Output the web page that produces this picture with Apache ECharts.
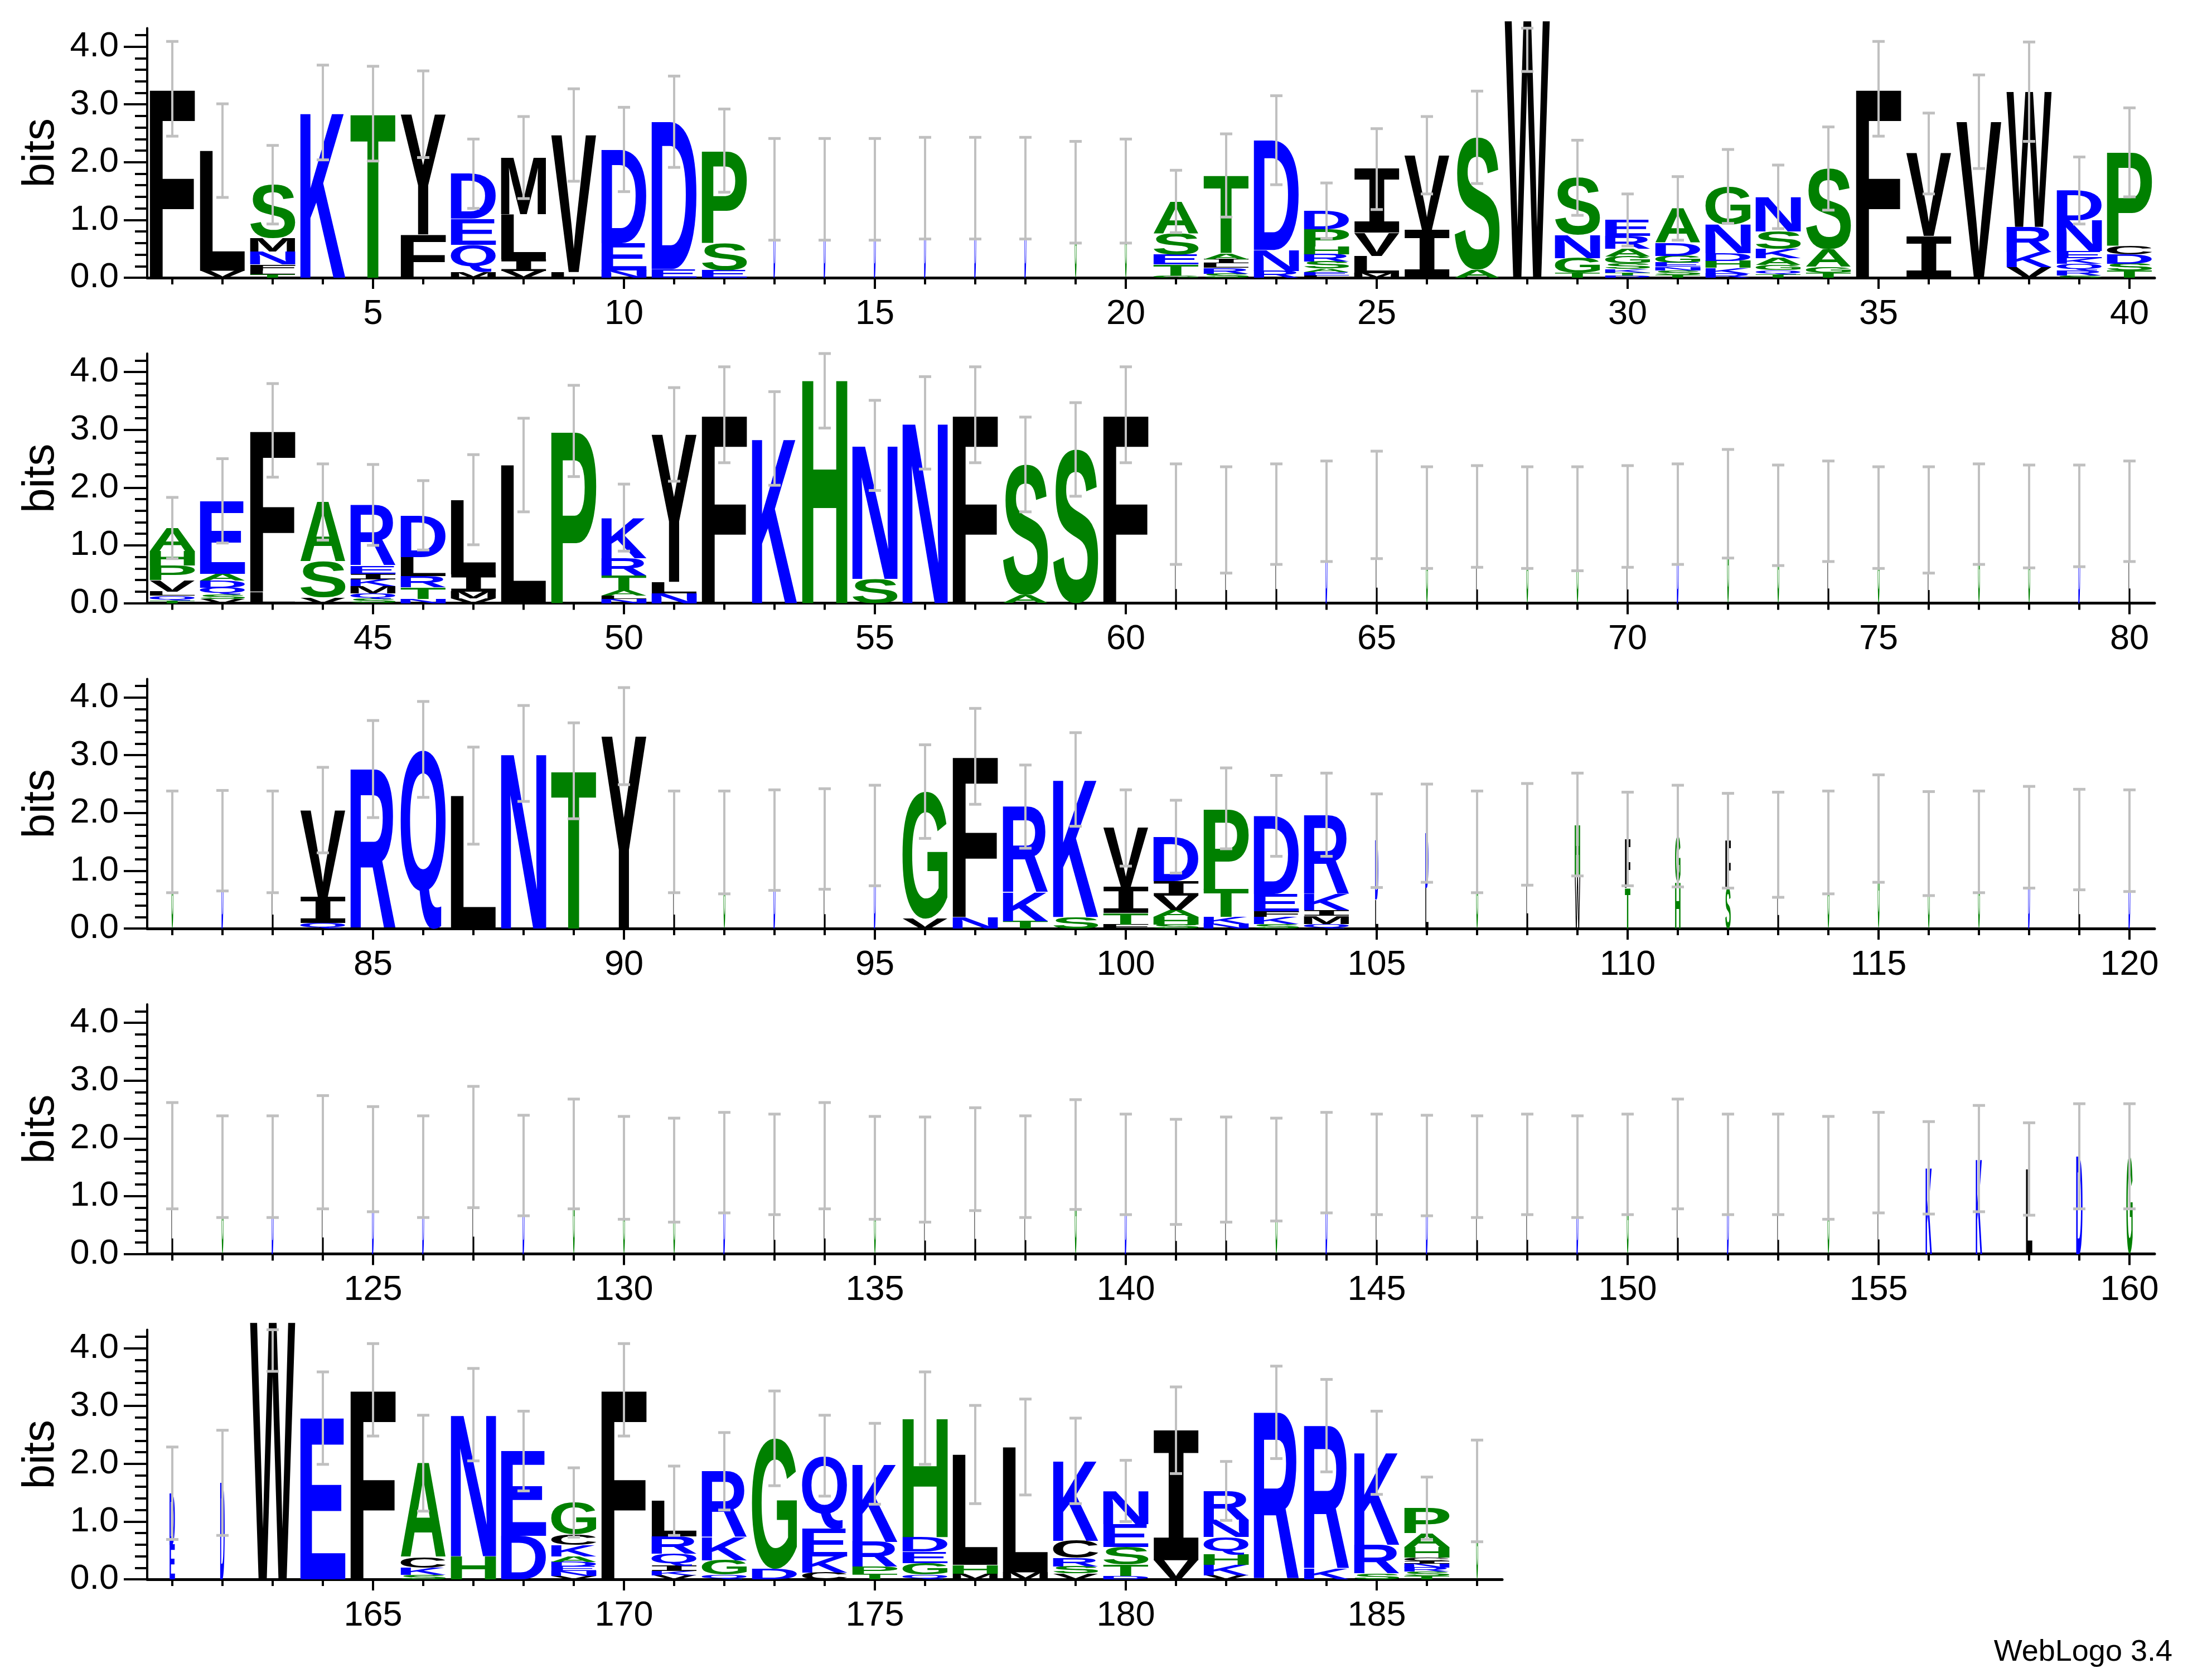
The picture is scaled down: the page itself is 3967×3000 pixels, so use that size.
<!DOCTYPE html>
<html>
<head>
<meta charset="utf-8">
<title>WebLogo 3.4</title>
<script src="https://cdn.jsdelivr.net/npm/echarts@6/dist/echarts.min.js"></script>
<style>
    html, body { margin: 0; padding: 0; background: #fff; }
    #main { width: 3967px; height: 3000px; }
</style>
</head>
<body>
<div id="main"></div>
<script>
    // one stack per position, letters bottom -> top, "letter + height in bits"
    const stacks = [
        // 1 - 40
        "F3.27", "V.12 L2.08", "T.06 L.07 F.1 N.22 M.23 S.93", "K2.86", "T2.84",
        "F.75 Y2.08", "M.1 Q.47 E.45 D.78", "V.12 I.2 L.78 M.98", "L.1 V2.37", "N.13 E.47 D1.62",
        "E.15 D2.55", "E.13 S.47 P1.6", "D1.53", "D1.53", "D1.53",
        "D1.55", "D1.55", "D1.55", "G1.48", "G1.5",
        "G.04 T.19 E.17 S.37 A.55", "S.07 R.1 L.08 I.07 A.1 T1.35", "R.12 N.36 D1.9", "L.04 E.06 A.06 S.12 R.13 H.13 P.3 D.32", "M.08 L.3 V.4 I1.1",
        "I.83 V1.29", "A.14 S2.29", "W4.45", "T.08 G.26 N.4 S.99", "D.04 T.05 K.06 S.1 G.12 A.13 R.22 E.28",
        "T.05 S.08 N.06 E.07 G.12 D.22 A.6", "R.07 K.1 H.12 D.13 N.5 G.66", "T.06 Q.07 G.09 A.12 K.16 S.3 N.6", "T.09 G.1 A.3 S1.4", "F3.27",
        "I.72 V1.43", "V2.7", "V.18 K.26 R.44 W2.34", "S.04 R.09 Q.11 K.1 E.12 N.53 D.52", "T.12 S.12 D.16 C.15 P1.62",
        // 41 - 80
        "T.05 Q.08 L.07 V.2 P.25 H.25 A.4", "V.07 S.08 Q.12 D.12 A.12 E1.26", "L.2 F2.79", "V.1 S.62 A1.03", "S.07 Q.1 M.12 K.12 I.1 E.14 R1.05",
        "N.07 T.2 R.2 L.33 D.72", "V.08 M.12 I.3 L1.29", "L2.39", "P2.98", "N.07 L.06 A.1 T.25 R.3 K.7",
        "N.17 L.2 Y2.55", "F3.26", "K2.85", "H3.88", "S.42 N2.31",
        "N3.12", "F3.26", "A.14 S2.26", "S2.66", "F3.26",
        "L1.54", "L1.44", "L1.54", "D1.59", "L1.7",
        "G1.48", "L1.5", "G1.48", "G1.46", "L1.5",
        "D1.54", "G1.72", "G1.52", "L1.59", "G1.48",
        "L1.44", "G1.54", "G1.5", "D1.51", "L1.59",
        // 81 - 120
        "G1.5", "D1.52", "L1.5", "Q.1 I.45 V1.5", "R2.76",
        "Q3.1", "L2.3", "N3.03", "T2.73", "Y3.33",
        "L1.5", "G1.49", "D1.53", "L1.55", "D1.61",
        "V.17 G2.2", "N.2 F2.78", "T.13 K.5 R1.48", "S.2 K2.38", "F.07 T.2 I.45 V1.02",
        "S.07 H.13 A.12 V.25 I.25 D.77", "N.08 K.12 T.48 P1.4", "S.08 K.12 F.1 E.3 D1.35", "Q.08 M.14 I.1 K.28 R1.37", "L.5 D1.02",
        "L.7 D.95", "G1.5", "L1.63", "W.9 H.9", "T.7 F.85",
        "H.8 G.8", "S.7 F.82", "L1.45", "G1.49", "G1.73",
        "G1.47", "G1.5", "D1.58", "L1.54", "D1.52",
        // 121 - 160
        "L1.7", "G1.51", "D1.51", "L1.76", "D1.64",
        "D1.51", "L1.85", "D1.53", "G1.73", "G1.49",
        "G1.45", "D1.58", "L1.55", "L1.7", "G1.49",
        "L1.46", "L1.64", "L1.51", "G1.72", "D1.55",
        "L1.42", "L1.46", "G1.46", "D1.58", "L1.55",
        "D1.53", "L1.51", "L1.55", "D1.51", "G1.55",
        "L1.73", "D1.55", "L1.55", "G1.49", "L1.58",
        "K1.49", "K1.65", "L1.47", "D1.69", "G1.69",
        // 161 - 187
        "E.6 D.89", "D1.67", "W4.45", "E2.79", "F3.28",
        "S.08 K.12 C.18 A1.63", "H.4 N2.45", "D.75 E1.47", "V.06 N.08 E.08 D.08 A.1 K.2 C.18 G.55", "F3.28",
        "V.07 K.07 I.1 Q.2 R.3 L.62", "Q.08 G.25 K.4 R1.14", "D.18 G2.26", "C.12 K.28 E.48 Q1.26", "T.1 P.12 R.43 K1.35",
        "Q.08 G.2 E.2 D.25 H2.06", "M.1 H.15 L1.91", "M.12 L2.17", "V.1 S.12 R.15 C.3 K1.38", "D.06 T.2 S.3 E.4 N.57",
        "V.33 I2.25", "V.07 K.18 H.18 Q.3 N.3 R.5", "R2.89", "K.18 R2.48", "S.1 R.5 K1.59",
        "T.06 S.07 R.07 N.07 I.05 C.06 H.18 A.24 P.43", "G1.53"
    ];

    // half length of the error bar (bits)
    const errBar = [
        .82, .81, .68, .82, .82, .75, .6, .71, .8, .73, .79, .72, .88, .88, .88, .88, .88, .88, .88, .9,
        .54, .72, .77, .48, .7, .67, .8, .88, .65, .45, .55, .64, .55, .72, .82, .7, .81, .86, .58, .77,
        .53, .73, .81, .66, .7, .6, .78, .81, .79, .58, .81, .83, .81, .85, .78, .8, .83, .82, .81, .83,
        .87, .92, .87, .87, .93, .88, .88, .88, .9, .88, .87, .94, .87, .87, .88, .92, .87, .89, .88, .87,
        .88, .87, .88, .74, .84, .83, .84, .83, .83, .84, .88, .89, .87, .87, .87, .81, .83, .72, .81, .66,
        .63, .7, .7, .72, .81, .85, .88, .88, .89, .81, .88, .82, .91, .89, .93, .9, .88, .88, .87, .88,
        .92, .88, .88, .98, .91, .88, 1.05, .87, .95, .89, .9, .87, .87, .92, .89, .91, .89, .88, .95, .87,
        .91, .91, .89, .87, .87, .87, .88, .87, .88, .87, .95, .87, .87, .89, .87, .8, .92, .8, .91, .91,
        .8, .91, .85, .8, .8, .83, .8, .69, .6, .8, .6, .67, .82, .7, .7, .8, .85, .83, .74, .53,
        .75, .51, .8, .8, .72, .54, .88
    ];

    // stack width as a fraction of a full column (gapped columns are narrow)
    const stackWidth = [
        1, 1, 1, 1, 1, 1, 1, 1, 1, 1, 1, 1, .04, .04, .04, .04, .04, .04, .04, .04,
        1, 1, 1, 1, 1, 1, 1, 1, 1, 1, 1, 1, 1, 1, 1, 1, 1, 1, 1, 1,
        1, 1, 1, 1, 1, 1, 1, 1, 1, 1, 1, 1, 1, 1, 1, 1, 1, 1, 1, 1,
        .04, .04, .04, .04, .04, .04, .04, .04, .04, .04, .04, .04, .04, .04, .04, .04, .04, .04, .04, .04,
        .04, .04, .04, 1, 1, 1, 1, 1, 1, 1, .04, .04, .04, .04, .04, 1, 1, 1, 1, 1,
        1, 1, 1, 1, .07, .07, .04, .04, .12, .12, .12, .12, .04, .04, .04, .04, .04, .04, .04, .04,
        .04, .04, .04, .04, .04, .04, .04, .04, .04, .04, .04, .04, .04, .04, .04, .04, .04, .04, .04, .04,
        .04, .04, .04, .04, .04, .04, .04, .04, .04, .04, .04, .04, .04, .04, .04, .14, .14, .14, .14, .14,
        .12, .1, 1, 1, 1, 1, 1, 1, 1, 1, 1, 1, 1, 1, 1, 1, 1, 1, 1, 1,
        1, 1, 1, 1, 1, 1, .04
    ];

    const rowStart = [1, 41, 81, 121, 161];
    const rowEnd = [40, 80, 120, 160, 187];
    const xLabelTicks = [
        [5, 10, 15, 20, 25, 30, 35, 40],
        [45, 50, 55, 60, 65, 70, 75, 80],
        [85, 90, 95, 100, 105, 110, 115, 120],
        [125, 130, 135, 140, 145, 150, 155, 160],
        [165, 170, 175, 180, 185]
    ];
    const yMajorTicks = [0, 1, 2, 3, 4];
    const yMinorTicks = [0.2, 0.4, 0.6, 0.8, 1.2, 1.4, 1.6, 1.8, 2.2, 2.4, 2.6, 2.8, 3.2, 3.4, 3.6, 3.8, 4.2];
    const yMax = 4.32;   // log2(20)

    // colour scheme
    const GREEN = '#008000', BLUE = '#0000ff', BLACK = '#000000', GREY = '#c0c0c0';
    function colourOf(ch) {
        if ('STGAPH'.indexOf(ch) >= 0) return GREEN;
        if ('KRDENQ'.indexOf(ch) >= 0) return BLUE;
        return BLACK;
    }

    function parseStack(s) {
        return s.split(' ').map(function (t) {
            return { ch: t.charAt(0), h: parseFloat(t.slice(1)) };
        });
    }
    function stackTotal(idx) {
        return parseStack(stacks[idx]).reduce(function (a, p) { return a + p.h; }, 0);
    }

    // letters are stretched to their box; I needs serifs like the logo font
    const LOGO_FONT = 'bold 200px "Liberation Sans", Arial, sans-serif';
    const SERIF_I_FONT = 'bold 200px "DejaVu Sans Mono", "Liberation Mono", monospace';
    function fontOf(ch) { return ch === 'I' ? SERIF_I_FONT : LOGO_FONT; }

    // ink box of a glyph, with the baseline zrender uses (align left, vertical middle)
    const measureCtx = document.createElement('canvas').getContext('2d');
    measureCtx.textAlign = 'left';
    measureCtx.textBaseline = 'middle';
    const glyphCache = {};
    function glyphBox(ch) {
        if (!glyphCache[ch]) {
            measureCtx.font = fontOf(ch);
            const m = measureCtx.measureText(ch);
            glyphCache[ch] = {
                l: -m.actualBoundingBoxLeft,
                r: m.actualBoundingBoxRight,
                t: -m.actualBoundingBoxAscent,
                b: m.actualBoundingBoxDescent
            };
        }
        return glyphCache[ch];
    }

    function renderStack(params, api) {
        const pos = api.value(0);
        const idx = pos - 1;
        const half = 0.45 * stackWidth[idx];
        const children = [];
        let base = 0;
        parseStack(stacks[idx]).forEach(function (p) {
            const tl = api.coord([pos - half, base + p.h]);
            const br = api.coord([pos + half, base]);
            base += p.h;
            const g = glyphBox(p.ch);
            const sx = (br[0] - tl[0]) / (g.r - g.l);
            const sy = (br[1] - tl[1]) / (g.b - g.t);
            children.push({
                type: 'text',
                x: tl[0] - sx * g.l,
                y: tl[1] - sy * g.t,
                scaleX: sx,
                scaleY: sy,
                silent: true,
                style: {
                    text: p.ch, x: 0, y: 0, font: fontOf(p.ch), fill: colourOf(p.ch),
                    align: 'left', verticalAlign: 'middle'
                }
            });
        });
        return { type: 'group', children: children };
    }

    function renderErr(params, api) {
        const pos = api.value(0);
        const idx = pos - 1;
        const tot = stackTotal(idx);
        const lo = api.coord([pos, Math.max(0, tot - errBar[idx])]);
        const hi = api.coord([pos, Math.min(yMax, tot + errBar[idx])]);
        const cap = 11;
        return {
            type: 'group',
            children: [
                { type: 'line', silent: true, shape: { x1: lo[0], y1: lo[1], x2: hi[0], y2: hi[1] }, style: { stroke: GREY, lineWidth: 4 } },
                { type: 'rect', silent: true, shape: { x: lo[0] - cap, y: lo[1] - 2.5, width: cap * 2, height: 5 }, style: { fill: GREY } },
                { type: 'rect', silent: true, shape: { x: hi[0] - cap, y: hi[1] - 2.5, width: cap * 2, height: 5 }, style: { fill: GREY } }
            ]
        };
    }

    // layout
    const colPx = 90;
    const bitPx = 103.6;
    const gridLeft = 264;
    const firstBase = 498;
    const rowGap = 583.5;
    const labelFont = { fontFamily: '"Liberation Sans", Arial, sans-serif', fontSize: 63, color: '#000' };

    const grid = [], xAxis = [], yAxis = [], series = [];
    for (let r = 0; r < 5; r++) {
        const n = rowEnd[r] - rowStart[r] + 1;
        const positions = [];
        for (let p = rowStart[r]; p <= rowEnd[r]; p++) positions.push(p);
        const height = yMax * bitPx;
        grid.push({ left: gridLeft, top: firstBase + r * rowGap - height, width: n * colPx, height: height });

        const xRange = { min: rowStart[r] - 0.5, max: rowEnd[r] + 0.5 };
        // axis line + small ticks at every position
        xAxis.push(Object.assign({
            type: 'value', gridIndex: r, position: 'bottom', splitLine: { show: false },
            axisLine: { show: true, onZero: false, lineStyle: { color: '#000', width: 5 } },
            axisTick: { show: true, customValues: positions, length: 12, lineStyle: { color: '#000', width: 4 } },
            axisLabel: { show: false }
        }, xRange));
        // long ticks + numbers every 5
        xAxis.push(Object.assign({
            type: 'value', gridIndex: r, position: 'bottom', splitLine: { show: false },
            axisLine: { show: false, onZero: false },
            axisTick: { show: true, customValues: xLabelTicks[r], length: 20, lineStyle: { color: '#000', width: 4 } },
            axisLabel: Object.assign({ show: true, customValues: xLabelTicks[r], margin: 34 }, labelFont)
        }, xRange));

        yAxis.push({
            type: 'value', gridIndex: r, position: 'left', min: 0, max: yMax, splitLine: { show: false },
            axisLine: { show: true, onZero: false, lineStyle: { color: '#000', width: 4 } },
            axisTick: { show: true, customValues: yMajorTicks, length: 42, lineStyle: { color: '#000', width: 4 } },
            axisLabel: Object.assign({
                show: true, customValues: yMajorTicks, margin: 51,
                formatter: function (v) { return v.toFixed(1); }
            }, labelFont),
            name: 'bits', nameLocation: 'middle', nameRotate: 90, nameGap: 150,
            nameTextStyle: { fontFamily: '"Liberation Sans", Arial, sans-serif', fontSize: 80, color: '#000' }
        });
        yAxis.push({
            type: 'value', gridIndex: r, position: 'left', min: 0, max: yMax, splitLine: { show: false },
            axisLine: { show: false, onZero: false },
            axisTick: { show: true, customValues: yMinorTicks, length: 22, lineStyle: { color: '#000', width: 4 } },
            axisLabel: { show: false }
        });

        const data = positions.map(function (p) { return [p]; });
        series.push({
            type: 'custom', name: 'stack' + r, xAxisIndex: r * 2, yAxisIndex: r * 2,
            renderItem: renderStack, data: data, encode: { x: 0 }, z: 2, silent: true
        });
        series.push({
            type: 'custom', name: 'error' + r, xAxisIndex: r * 2, yAxisIndex: r * 2,
            renderItem: renderErr, data: data, encode: { x: 0 }, z: 3, silent: true
        });
    }

    const myChart = echarts.init(document.getElementById('main'));
    myChart.setOption({
        animation: false,
        backgroundColor: '#fff',
        grid: grid,
        xAxis: xAxis,
        yAxis: yAxis,
        series: series,
        graphic: [{
            type: 'text', right: 71, top: 2936,
            style: { text: 'WebLogo 3.4', font: '54px "Liberation Sans", Arial, sans-serif', fill: '#000' }
        }]
    });
</script>
</body>
</html>
